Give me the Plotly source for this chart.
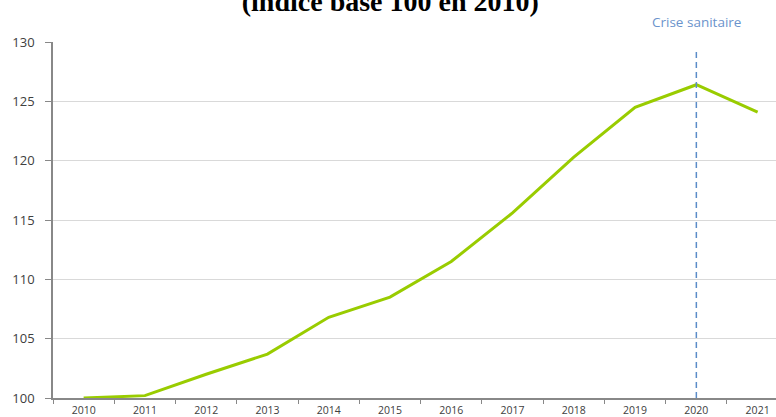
import plotly.graph_objects as go

years = ["2010", "2011", "2012", "2013", "2014", "2015", "2016", "2017", "2018", "2019", "2020", "2021"]
indice = [100.0, 100.2, 102.0, 103.7, 106.8, 108.5, 111.5, 115.6, 120.3, 124.5, 126.4, 124.1]
y_ticks = [100, 105, 110, 115, 120, 125, 130]
crisis_year = "2020"
crisis_idx = years.index(crisis_year)

W, H = 776, 417
ml, mt, mb, mr = 52.5, 42, 18.5, 0

fig = go.Figure()
fig.add_trace(go.Scatter(
    x=years, y=indice, mode="lines",
    line=dict(color="#99cc00", width=3),
    hoverinfo="skip", showlegend=False,
))

fig.add_shape(type="line", xref="x", yref="y",
              x0=crisis_idx, x1=crisis_idx, y0=100, y1=129.3,
              line=dict(color="#5b8cc8", width=1.5, dash="6px,4px"))

fig.add_annotation(x=crisis_idx, xref="x", y=1 + 20.5 / (H - mt - mb), yref="paper",
                   text="Crise sanitaire", showarrow=False,
                   font=dict(family="Open Sans, Liberation Sans, sans-serif", size=13.5, color="#6b93cc"),
                   xanchor="center", yanchor="middle")

fig.update_layout(
    width=W, height=H,
    margin=dict(l=ml, r=mr, t=mt, b=mb, pad=0),
    paper_bgcolor="white", plot_bgcolor="white",
    title=dict(text="<b>(indice base 100 en 2010)</b>",
               x=0.503, xref="container", xanchor="center",
               y=1 - 1.0 / H, yref="container", yanchor="middle",
               font=dict(family="Liberation Serif, Times New Roman, serif", size=28, color="black")),
    xaxis=dict(
        type="category", categoryorder="array", categoryarray=years,
        range=[-0.5, 11.3], tickson="boundaries",
        ticks="outside", ticklen=4, tickcolor="#888888", tickwidth=1,
        showline=True, linecolor="#888888", linewidth=1.5,
        showgrid=False, zeroline=False, automargin=False,
        tickfont=dict(family="Open Sans, Liberation Sans, sans-serif", size=10.5, color="#404040"),
        ticklabelstandoff=2,
    ),
    yaxis=dict(
        range=[100, 130], tickvals=y_ticks,
        ticks="outside", ticklen=6, tickcolor="#888888", tickwidth=1,
        showline=True, linecolor="#888888", linewidth=1.5,
        showgrid=True, gridcolor="#d9d9d9", gridwidth=1,
        zeroline=False, automargin=False,
        tickfont=dict(family="Open Sans, Liberation Sans, sans-serif", size=13, color="#404040"),
        ticklabelstandoff=8,
    ),
)

fig.write_html("out.html", config={"displayModeBar": False},
               post_script="document.body.style.margin='0';")
